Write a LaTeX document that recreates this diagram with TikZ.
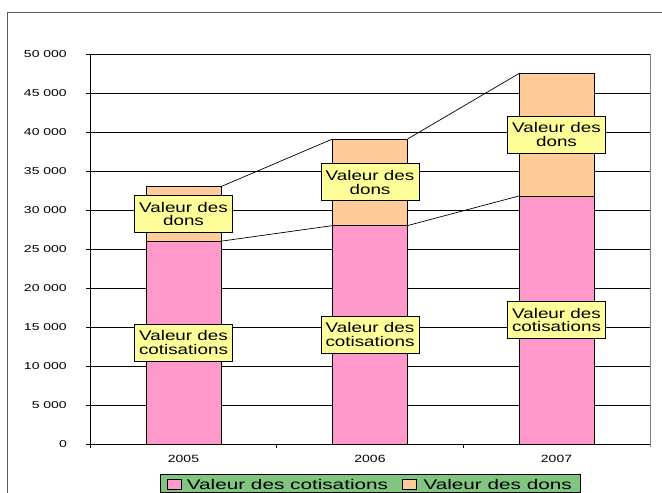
\documentclass[tikz,border=0pt]{standalone}
\usepackage{fontspec}
\setmainfont{Liberation Sans}
\usepackage{graphicx}
\definecolor{cotcol}{RGB}{255,153,204}
\definecolor{doncol}{RGB}{255,204,153}
\definecolor{labcol}{RGB}{255,255,153}
\definecolor{legcol}{RGB}{128,198,128}
\definecolor{framecol}{RGB}{90,90,90}
\newcommand{\wx}[2]{\scalebox{#1}[1]{#2}}
\begin{document}
\begin{tikzpicture}[x=1pt,y=-1pt,
  gridline/.style={line width=0.8pt, black},
  barseg/.style={draw=black, line width=0.8pt},
  lbl/.style={draw=black, fill=labcol, line width=0.8pt, minimum width=98pt,
    minimum height=37pt, inner sep=0pt, align=center,
    font=\fontsize{14}{13.8}\selectfont},
  axlab/.style={inner sep=0pt, font=\fontsize{10}{12}\selectfont},
  catlab/.style={inner sep=0pt, font=\fontsize{10.5}{12}\selectfont},
  legtext/.style={inner sep=0pt, font=\fontsize{14}{16}\selectfont},
  legkey/.style={draw=black, line width=0.8pt, minimum width=14pt,
    minimum height=10pt, inner sep=0pt},
  serline/.style={line width=0.7pt, black}]
\useasboundingbox (0,0) rectangle (662,493);
\fill[white] (0,0) rectangle (662,493);
% outer frame
\draw[framecol, line width=1pt] (7,493) -- (7,12) -- (662,12);
% gridlines and axis labels (values in thousands)
\foreach \v/\t [count=\i] in {0/0, 5/5 000, 10/10 000, 15/15 000,
  20/20 000, 25/25 000, 30/30 000, 35/35 000, 40/40 000,
  45/45 000, 50/50 000}{
  \pgfmathsetmacro\yy{444-\v*7.8}
  \draw[gridline] (86,\yy) -- (650,\yy);
  \node[axlab, anchor=base east] (yl\i) at (67,\yy+3.5) {\wx{1.4}{\t}};
}
% plot borders
\draw[gray, line width=0.8pt] (650,54) -- (650,447);
\draw[gridline] (90,54) -- (90,444);
\draw[gridline] (90,444) -- (650,444);
\foreach \xx in {90,276.67,463.33}{
  \draw[gridline] (\xx,444) -- (\xx,448);
}
% bars (values in thousands)
\foreach \i/\cx/\cv/\tv in {1/183.5/26/33, 2/370/28/39.1, 3/556.5/31.8/47.5}{
  \pgfmathsetmacro\yc{444-\cv*7.8}
  \pgfmathsetmacro\yt{444-\tv*7.8}
  \filldraw[barseg, fill=cotcol] (\cx-37.5,444) rectangle (\cx+37.5,\yc);
  \filldraw[barseg, fill=doncol] (\cx-37.5,\yc) rectangle (\cx+37.5,\yt);
  \coordinate (c\i L) at (\cx-37.5,\yc);
  \coordinate (c\i R) at (\cx+37.5,\yc);
  \coordinate (t\i L) at (\cx-37.5,\yt);
  \coordinate (t\i R) at (\cx+37.5,\yt);
  \coordinate (cm\i) at (\cx,{(444+\yc)/2});
  \coordinate (dm\i) at (\cx,{(\yc+\yt)/2});
}
% series lines
\draw[serline] (c1R) -- (c2L);
\draw[serline] (c2R) -- (c3L);
\draw[serline] (t1R) -- (t2L);
\draw[serline] (t2R) -- (t3L);
% data labels
\foreach \i in {1,2,3}{
  \node[lbl] (lc\i) at (cm\i) {\wx{1.345}{Valeur des}\\\wx{1.345}{cotisations}};
  \node[lbl] (ld\i) at (dm\i) {\wx{1.345}{Valeur des}\\\wx{1.345}{dons}};
}
% category labels
\node[catlab, anchor=base] (x1) at (183.5,462.3) {\wx{1.33}{2005}};
\node[catlab, anchor=base] (x2) at (370,462.3) {\wx{1.33}{2006}};
\node[catlab, anchor=base] (x3) at (556.5,462.3) {\wx{1.33}{2007}};
% legend
\node[draw=black, fill=legcol, line width=0.8pt, minimum width=420pt,
  minimum height=18pt, inner sep=0pt] (legend) at (370.7,483.5) {};
\node[legkey, fill=cotcol] (k1) at (174,484.6) {};
\node[legtext, anchor=base west] (k1t) at (186.7,489.3) {\wx{1.48}{Valeur des cotisations}};
\node[legkey, fill=doncol] (k2) at (409.5,484.6) {};
\node[legtext, anchor=base west] (k2t) at (423.3,489.3) {\wx{1.48}{Valeur des dons}};
\end{tikzpicture}
\end{document}
